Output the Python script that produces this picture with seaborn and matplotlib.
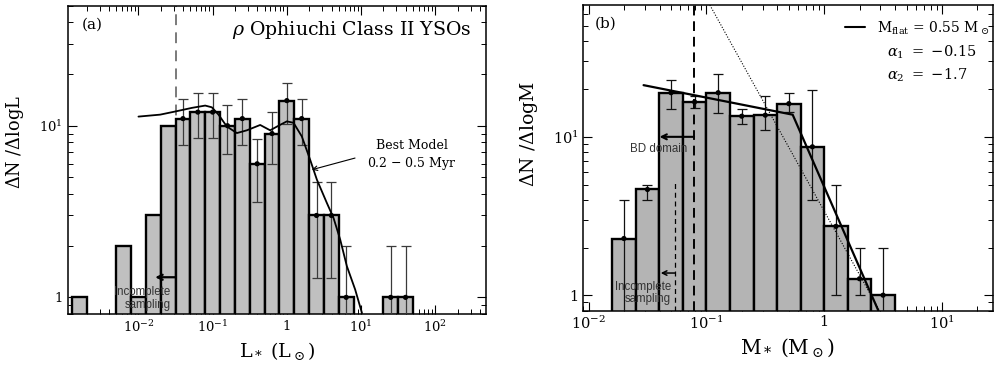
import numpy as np
import matplotlib
matplotlib.use("Agg")
import matplotlib.pyplot as plt
import seaborn as sns
from matplotlib.ticker import FuncFormatter, LogLocator, NullFormatter
from matplotlib.lines import Line2D

# ---------------- Panel (a): luminosity function ----------------
lum_log_centers = [-2.8, -2.2, -2.0, -1.8, -1.6, -1.4, -1.2, -1.0, -0.8, -0.6,
                   -0.4, -0.2, 0.0, 0.2, 0.4, 0.6, 0.8, 1.4, 1.6]
lum_counts = [1, 2, 1, 3, 10, 11, 12, 12, 10, 11, 6, 9, 14, 11, 3, 3, 1, 1, 1]
lum_bin_halfwidth = 0.1

lum_err_log_centers = [-1.4, -1.2, -1.0, -0.8, -0.6, -0.4, -0.2, 0.0, 0.2, 0.4,
                       0.6, 0.8, 1.4, 1.6]
lum_err_counts = [11, 12, 12, 10, 11, 6, 9, 14, 11, 3, 3, 1, 1, 1]
lum_err_sigma = [3.3, 3.5, 3.5, 3.2, 3.3, 2.4, 3.0, 3.7, 3.3, 1.7, 1.7, 1.0, 1.0, 1.0]

model_L = [0.0100, 0.0196, 0.0313, 0.0524, 0.0793, 0.0975, 0.120, 0.155, 0.212,
           0.289, 0.437, 0.596, 0.773, 1.00, 1.23, 1.59, 2.06, 2.54, 3.46,
           4.26, 5.24, 6.44, 8.34, 10.3]
model_N = [11.3, 11.6, 12.1, 12.7, 13.1, 12.8, 11.6, 9.9, 9.06, 9.4, 10.1, 9.4,
           10.0, 10.6, 10.4, 8.67, 6.34, 4.85, 3.55, 2.90, 2.17, 1.52, 1.11, 0.81]

lum_incomplete_limit = 0.0316
lum_incomplete_arrow = (0.0316, 0.0168, 1.31)
best_model_arrow = ((2.17, 5.54), (8.3, 6.48))

# ---------------- Panel (b): mass function ----------------
mass_log_centers = [-1.7, -1.5, -1.3, -1.1, -0.9, -0.7, -0.5, -0.3, -0.1, 0.1, 0.3, 0.5]
mass_counts = [2.28, 4.65, 19.0, 16.6, 19.0, 13.5, 13.7, 16.2, 8.65, 2.72, 1.27, 1.0]
mass_err_hi = [4.0, 5.0, 23.0, 18.0, 24.9, 14.9, 18.1, 18.8, 19.9, 5.0, 2.0, 2.0]
mass_err_lo = [0.3, 4.0, 15.0, 15.2, 14.1, 12.0, 11.0, 14.4, 4.0, 1.0, 1.0, 0.3]
mass_bin_halfwidth = 0.1

fit_M = [0.0293, 0.54, 2.88]
fit_N = [21.2, 13.8, 0.80]
salpeter_M = [0.107, 2.94]
salpeter_N = [68.0, 0.80]

bd_limit = 0.0786
mass_incomplete_limit = 0.054
mass_incomplete_top = 5.1
bd_arrow = (0.0786, 0.040, 10.0)
mass_incomplete_arrow = (0.054, 0.041, 1.38)

# ---------------- Style ----------------
sns.set_theme(style="ticks")
plt.rcParams["font.family"] = ["DejaVu Serif"]
plt.rcParams["mathtext.fontset"] = "dejavuserif"
plt.rcParams["text.color"] = "black"
plt.rcParams["axes.labelcolor"] = "black"
plt.rcParams["axes.linewidth"] = 1.1
plt.rcParams["xtick.major.width"] = 0.8
plt.rcParams["ytick.major.width"] = 0.8
plt.rcParams["xtick.minor.width"] = 0.7
plt.rcParams["ytick.minor.width"] = 0.7

fig = plt.figure(figsize=(9.94, 3.71), dpi=100)
axA = fig.add_axes([0.0684, 0.1536, 0.4202, 0.831])
axB = fig.add_axes([0.5862, 0.163, 0.4128, 0.8235])


def log_fmt(v, pos):
    e = int(round(np.log10(v)))
    if e == 0:
        return "1"
    return r"$10^{%d}$" % e


def style_axis(ax, fs, pad):
    ax.set_xscale("log")
    ax.set_yscale("log")
    for axis in (ax.xaxis, ax.yaxis):
        axis.set_major_locator(LogLocator(base=10, numticks=20))
        axis.set_minor_locator(LogLocator(base=10, subs=np.arange(2, 10), numticks=40))
        axis.set_major_formatter(FuncFormatter(log_fmt))
        axis.set_minor_formatter(NullFormatter())
    ax.tick_params(which="both", direction="in", top=True, right=True,
                   colors="black", labelsize=fs, pad=pad)
    ax.tick_params(which="major", length=6.5)
    ax.tick_params(which="minor", length=3.5)
    for s in ax.spines.values():
        s.set_color("black")


def draw_bars(ax, log_centers, heights, hw, color):
    c = np.asarray(log_centers)
    left = 10 ** (c - hw)
    right = 10 ** (c + hw)
    ax.bar(left, heights, width=right - left, align="edge", color=color,
           edgecolor="black", linewidth=1.7, zorder=2)


# ---------------- Panel (a) ----------------
style_axis(axA, 9.5, 4)
axA.set_xlim(10 ** -2.95, 10 ** 2.68)
axA.set_ylim(0.8, 50)

axA.axvline(lum_incomplete_limit, color="#707070", ls=(0, (6, 4)), lw=1.3, zorder=1)
draw_bars(axA, lum_log_centers, lum_counts, lum_bin_halfwidth, "#c0c0c0")

xe = 10 ** np.asarray(lum_err_log_centers)
ye = np.asarray(lum_err_counts, dtype=float)
se = np.asarray(lum_err_sigma)
lo = np.maximum(ye - se, 0.3)
axA.errorbar(xe, ye, yerr=[ye - lo, ye + se - ye], fmt="none", ecolor="#3a3a3a",
             elinewidth=0.9, capsize=3.5, capthick=0.9, zorder=3)
sns.scatterplot(x=xe, y=ye, ax=axA, color="black", s=14, edgecolor="none",
                zorder=4, legend=False)
sns.lineplot(x=model_L, y=model_N, ax=axA, color="black", lw=1.3,
             estimator=None, sort=False, zorder=5)

x0, x1, yy = lum_incomplete_arrow
axA.annotate("", xy=(x1, yy), xytext=(x0, yy),
             arrowprops=dict(arrowstyle="->", lw=1.6, color="black",
                             shrinkA=0, shrinkB=0, mutation_scale=9), zorder=6)
axA.text(0.246, 0.050, "Incomplete\nsampling", transform=axA.transAxes,
         ha="right", va="center", fontsize=8.3, color="#333333",
         family=["Liberation Sans", "DejaVu Sans"], linespacing=1.1, zorder=7)

axA.annotate("", xy=best_model_arrow[0], xytext=best_model_arrow[1],
             arrowprops=dict(arrowstyle="->", lw=0.8, color="black",
                             shrinkA=0, shrinkB=0, mutation_scale=8), zorder=6)
axA.text(0.824, 0.548, "Best Model", transform=axA.transAxes, ha="center",
         va="center", fontsize=9)
axA.text(0.824, 0.487, r"0.2 $-$ 0.5 Myr", transform=axA.transAxes, ha="center",
         va="center", fontsize=9)

axA.text(0.967, 0.921, r"$\rho$ Ophiuchi Class II YSOs", transform=axA.transAxes,
         ha="right", va="center", fontsize=13.6)
axA.text(0.0335, 0.937, "(a)", transform=axA.transAxes, ha="left", va="center",
         fontsize=11)

axA.set_xlabel(r"$\mathrm{L_*\ (L_\odot)}$", fontsize=13.8, labelpad=3)
axA.set_ylabel(r"$\Delta\mathrm{N}\ /\Delta\mathrm{logL}$", fontsize=12.8)
axA.yaxis.set_label_coords(-0.100, 0.558)

# ---------------- Panel (b) ----------------
style_axis(axB, 10.5, 3)
axB.set_xlim(10 ** -2.05, 10 ** 1.433)
axB.set_ylim(0.8, 68)

draw_bars(axB, mass_log_centers, mass_counts, mass_bin_halfwidth, "#b4b4b4")
xm = 10 ** np.asarray(mass_log_centers)
ym = np.asarray(mass_counts)
axB.errorbar(xm, ym, yerr=[ym - np.asarray(mass_err_lo), np.asarray(mass_err_hi) - ym],
             fmt="none", ecolor="#111111", elinewidth=0.9, capsize=3.5,
             capthick=0.9, zorder=3)
sns.scatterplot(x=xm, y=ym, ax=axB, color="black", s=14, edgecolor="none",
                zorder=4, legend=False)
sns.lineplot(x=fit_M, y=fit_N, ax=axB, color="black", lw=1.6,
             estimator=None, sort=False, zorder=5)
sns.lineplot(x=salpeter_M, y=salpeter_N, ax=axB, color="black", lw=0.8,
             ls=(0, (1, 1.5)), estimator=None, sort=False, zorder=5)

axB.axvline(bd_limit, color="black", ls=(0, (5, 3)), lw=1.4, zorder=6)
axB.vlines(mass_incomplete_limit, 0.8, mass_incomplete_top, color="black",
           ls=(0, (4, 3)), lw=0.9, zorder=6)

x0, x1, yy = bd_arrow
axB.annotate("", xy=(x1, yy), xytext=(x0, yy),
             arrowprops=dict(arrowstyle="->", lw=1.5, color="black",
                             shrinkA=0, shrinkB=0, mutation_scale=9), zorder=7)
x0, x1, yy = mass_incomplete_arrow
axB.annotate("", xy=(x1, yy), xytext=(x0, yy),
             arrowprops=dict(arrowstyle="->", lw=1.1, color="black",
                             shrinkA=0, shrinkB=0, mutation_scale=8), zorder=7)
axB.text(0.186, 0.529, "BD domain", transform=axB.transAxes, ha="center",
         va="center", fontsize=8.3, color="#333333",
         family=["Liberation Sans", "DejaVu Sans"], zorder=8)
axB.text(0.215, 0.059, "Incomplete\nsampling", transform=axB.transAxes,
         ha="right", va="center", fontsize=8.3, color="#333333",
         family=["Liberation Sans", "DejaVu Sans"], linespacing=1.0, zorder=8)

axB.text(0.030, 0.940, "(b)", transform=axB.transAxes, ha="left", va="center",
         fontsize=11)
leg = axB.legend(handles=[Line2D([], [], color="black", lw=1.5)],
                 labels=[r"$\mathrm{M_{flat}}$ = 0.55 $\mathrm{M_\odot}$"],
                 loc="center left", bbox_to_anchor=(0.640, 0.925),
                 frameon=False, fontsize=10, handlelength=1.45,
                 handletextpad=0.8, borderpad=0, borderaxespad=0)
for t in leg.get_texts():
    t.set_color("black")
axB.text(0.742, 0.846, r"$\alpha_1\ =\ {-}0.15$", transform=axB.transAxes,
         ha="left", va="center", fontsize=10.5)
axB.text(0.742, 0.771, r"$\alpha_2\ =\ {-}1.7$", transform=axB.transAxes,
         ha="left", va="center", fontsize=10.5)

axB.set_xlabel(r"$\mathrm{M_*\ (M_\odot)}$", fontsize=14.5, labelpad=3)
axB.set_ylabel(r"$\Delta\mathrm{N}\ /\Delta\mathrm{logM}$", fontsize=13.6)
axB.yaxis.set_label_coords(-0.104, 0.579)

fig.savefig("out.png", dpi=100)
